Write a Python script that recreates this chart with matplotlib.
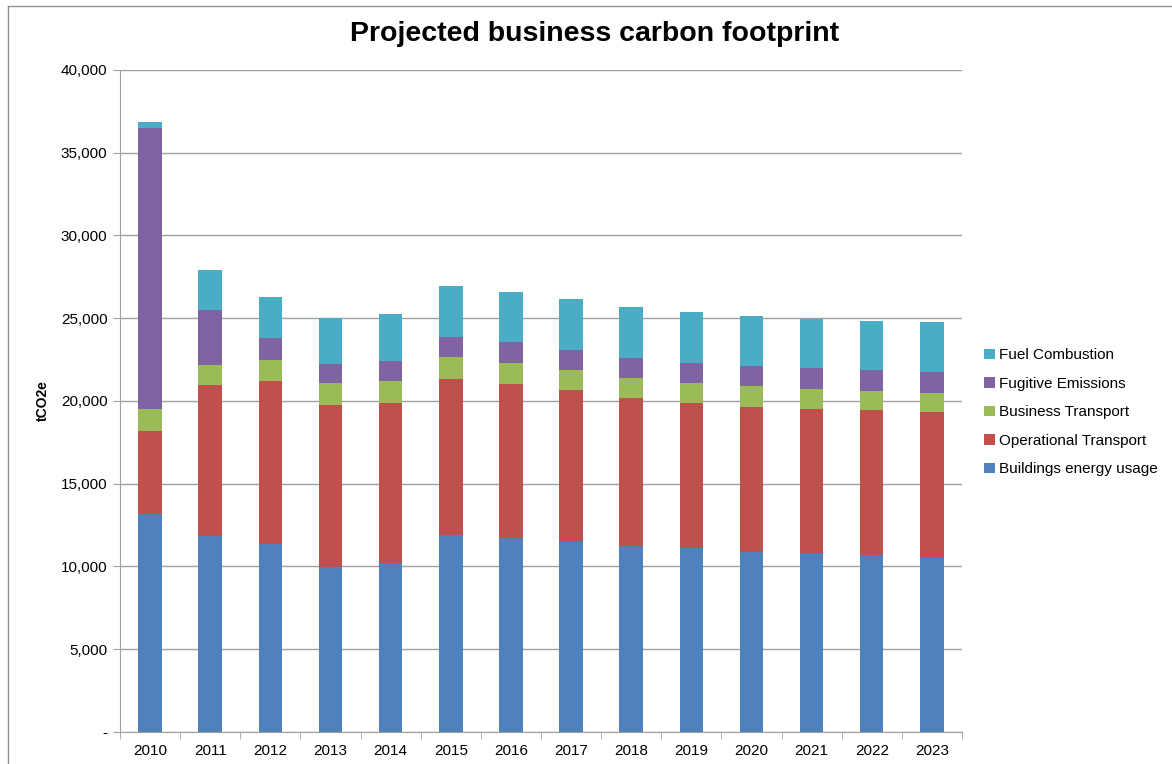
import numpy as np
import matplotlib.pyplot as plt
from matplotlib.lines import Line2D

plt.rcParams['font.family'] = ['Liberation Sans', 'DejaVu Sans']

years = ['2010', '2011', '2012', '2013', '2014', '2015', '2016',
         '2017', '2018', '2019', '2020', '2021', '2022', '2023']

# tCO2e per source and year
buildings = [13170, 11840, 11380, 9950, 10230, 11900, 11720,
             11540, 11260, 11140, 10900, 10800, 10680, 10560]
operational = [5030, 9150, 9820, 9830, 9670, 9430, 9330,
               9110, 8920, 8740, 8760, 8740, 8760, 8760]
business = [1300, 1170, 1280, 1320, 1300, 1330, 1270,
            1200, 1210, 1210, 1230, 1180, 1160, 1150]
fugitive = [17000, 3360, 1350, 1150, 1240, 1210, 1230,
            1230, 1230, 1210, 1210, 1270, 1270, 1280]
fuel = [360, 2420, 2440, 2780, 2840, 3100, 3050,
        3060, 3060, 3100, 3020, 2960, 2980, 3000]

series = [
    ('Buildings energy usage', buildings, '#4F81BD'),
    ('Operational Transport', operational, '#C0504D'),
    ('Business Transport', business, '#9BBB59'),
    ('Fugitive Emissions', fugitive, '#8064A2'),
    ('Fuel Combustion', fuel, '#4BACC6'),
]

fig = plt.figure(figsize=(11.72, 7.64), dpi=100)
ax = fig.add_axes([0.1024, 0.0419, 0.7184, 0.8665])

x = np.arange(len(years))
bottom = np.zeros(len(years))
handles = []
for name, vals, col in series:
    b = ax.bar(x, vals, width=0.39, bottom=bottom, color=col, label=name, zorder=2)
    handles.append(b)
    bottom += np.array(vals)

ax.set_xlim(-0.5, len(years) - 0.5)
ax.set_ylim(0, 40000)
ax.set_yticks(np.arange(0, 40001, 5000))
ax.set_yticklabels(['-'] + ['{:,}'.format(v) for v in range(5000, 40001, 5000)])
ax.set_xticks(x)
ax.set_xticklabels(years)
ax.set_xticks(np.arange(-0.5, len(years), 1), minor=True)

grid_col = '#A0A0A0'
ax.yaxis.grid(True, color=grid_col, linewidth=1, zorder=0)
ax.set_axisbelow(True)
for s in ['top', 'right']:
    ax.spines[s].set_visible(False)
for s in ['left', 'bottom']:
    ax.spines[s].set_color(grid_col)
ax.tick_params(axis='y', direction='out', length=5, color=grid_col, labelsize=11, pad=4)
ax.tick_params(axis='x', which='major', length=0, labelsize=11, pad=9)
ax.tick_params(axis='x', which='minor', direction='out', length=5, color=grid_col)

ax.set_ylabel('tCO2e', fontsize=10, fontweight='bold', labelpad=8)

fig.text(0.507, 0.955, 'Projected business carbon footprint',
         ha='center', va='center', fontsize=20.5, fontweight='bold')

ax.legend(handles[::-1], [s[0] for s in series][::-1],
          loc='center left', bbox_to_anchor=(1.01, 0.483), frameon=False,
          fontsize=11, handlelength=0.7, handleheight=0.7, handletextpad=0.3,
          labelspacing=0.95)

# outer chart frame
fig.add_artist(Line2D([8 / 1172, 8 / 1172], [0, 1 - 6 / 764],
                      transform=fig.transFigure, color='#909090', lw=1))
fig.add_artist(Line2D([8 / 1172, 1], [1 - 6 / 764, 1 - 6 / 764],
                      transform=fig.transFigure, color='#909090', lw=1))

fig.savefig('out.png', dpi=100)
